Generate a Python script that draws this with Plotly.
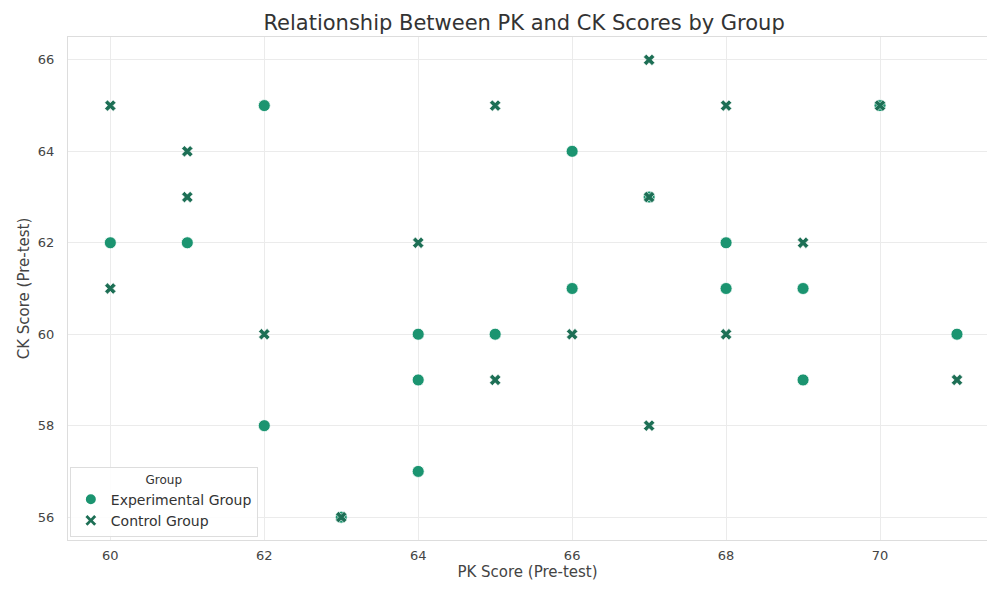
import plotly.graph_objects as go

# Pre-test scores per student, split by group
exp_pk = [60, 61, 62, 62, 63, 64, 64, 64, 65, 66, 66, 67, 68, 68, 69, 69, 70, 71]
exp_ck = [62, 62, 65, 58, 56, 60, 59, 57, 60, 64, 61, 63, 62, 61, 61, 59, 65, 60]

ctl_pk = [60, 60, 61, 61, 62, 63, 64, 65, 65, 66, 67, 67, 67, 68, 68, 69, 70, 71]
ctl_ck = [65, 61, 64, 63, 60, 56, 62, 65, 59, 60, 66, 63, 58, 65, 60, 62, 65, 59]

x_ticks = [60, 62, 64, 66, 68, 70]
y_ticks = [56, 58, 60, 62, 64, 66]

FONT = "DejaVu Sans"
GRID = "#ebebeb"

fig = go.Figure()
fig.add_trace(go.Scatter(
    x=exp_pk, y=exp_ck, mode="markers", name="Experimental Group",
    marker=dict(symbol="circle", size=12, color="#1b9470",
                line=dict(color="white", width=0.8)),
))
fig.add_trace(go.Scatter(
    x=ctl_pk, y=ctl_ck, mode="markers", name="Control Group",
    marker=dict(symbol="x", size=10, color="#1d6f55",
                line=dict(color="white", width=0.6)),
))

fig.update_layout(
    width=987, height=589,
    margin=dict(l=68, r=0, t=37, b=49),
    paper_bgcolor="white", plot_bgcolor="white",
    font=dict(family=FONT, color="#333333", size=12),
    title=dict(text="Relationship Between PK and CK Scores by Group",
               x=0.531, xanchor="center", y=0.962, yanchor="middle",
               font=dict(size=21, color="#333333", family=FONT)),
    xaxis=dict(range=[59.45, 71.39], tickvals=x_ticks, showgrid=True,
               gridcolor=GRID, zeroline=False, showline=True, linecolor="#dddddd",
               mirror=True, ticks="", ticklabelstandoff=3,
               tickfont=dict(size=13, color="#444444"),
               title=dict(text="PK Score (Pre-test)", standoff=4,
                          font=dict(size=15, color="#444444"))),
    yaxis=dict(range=[55.5, 66.5], tickvals=y_ticks, showgrid=True,
               gridcolor=GRID, zeroline=False, showline=True, linecolor="#dddddd",
               mirror=True, ticks="", ticklabelstandoff=10,
               tickfont=dict(size=13, color="#444444"),
               title=dict(text="CK Score (Pre-test)", standoff=4,
                          font=dict(size=15, color="#444444"))),
    legend=dict(
        title=dict(text="Group", side="top center", font=dict(size=12)),
        x=0.002, y=0.006, xanchor="left", yanchor="bottom",
        bgcolor="rgba(255,255,255,0.9)", bordercolor="#dddddd", borderwidth=1,
        font=dict(size=14, color="#333333"), itemsizing="constant",
        itemwidth=30, tracegroupgap=0,
    ),
    showlegend=True,
)

fig.write_html("out.html")
